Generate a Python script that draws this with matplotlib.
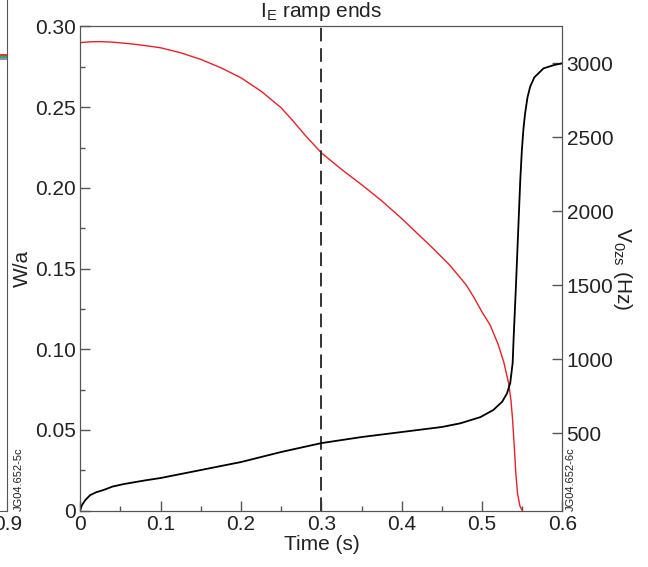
import numpy as np
import matplotlib
matplotlib.use("Agg")
import matplotlib.pyplot as plt
from matplotlib.ticker import MultipleLocator

plt.rcParams['font.family'] = ['Liberation Sans', 'DejaVu Sans']
plt.rcParams['mathtext.fontset'] = 'custom'
plt.rcParams['mathtext.rm'] = 'Liberation Sans'

# W/a (left axis, red)
t_w = [0.0, 0.0125, 0.025, 0.04, 0.062, 0.08, 0.1, 0.125, 0.15, 0.175, 0.2,
       0.225, 0.25, 0.265, 0.28, 0.3, 0.325, 0.35, 0.375, 0.4, 0.42, 0.44,
       0.46, 0.47, 0.48, 0.49, 0.5, 0.51, 0.52, 0.527, 0.533, 0.536, 0.538,
       0.540, 0.542, 0.544, 0.547, 0.550]
w_a = [0.2900, 0.2905, 0.2906, 0.2903, 0.2893, 0.2882, 0.2868, 0.2837, 0.2796,
       0.2744, 0.2682, 0.2599, 0.2496, 0.2413, 0.2325, 0.2217, 0.2115, 0.2020,
       0.1920, 0.1810, 0.1715, 0.1620, 0.1520, 0.1460, 0.1400, 0.1320, 0.1230,
       0.1150, 0.1030, 0.0920, 0.0790, 0.0680, 0.0560, 0.0400, 0.0230, 0.0110,
       0.0030, 0.0]

# V0zs (right axis, black)
t_v = [0.0, 0.002, 0.006, 0.01, 0.0125, 0.02, 0.029, 0.04, 0.054, 0.07,
       0.083, 0.1, 0.15, 0.2, 0.25, 0.3, 0.35, 0.4, 0.45, 0.473, 0.498, 0.514,
       0.525, 0.531, 0.535, 0.538, 0.5393, 0.542, 0.5475, 0.5495, 0.5515,
       0.5535, 0.5565, 0.5598, 0.565, 0.5765, 0.59, 0.6]
v_zs = [-20, 12, 45, 68, 81, 100, 115, 138, 155, 170, 182, 196, 250, 304, 372,
        432, 473, 507, 541, 566, 608, 656, 712, 768, 838, 973, 1151, 1480, 2211,
        2414, 2560, 2662, 2770, 2842, 2905, 2966, 2989, 3000]

# traces of the neighbouring panel at the left edge
t_side = [0.80, 0.90]
side_red = [0.837, 0.837]
side_green = [0.833, 0.833]
side_blue = [0.829, 0.829]

fig = plt.figure(figsize=(6.48, 5.67), dpi=100)
spine_col = '#555555'
txt_col = '#222222'
fs = 15

# sliver of the left-hand panel
ax0 = fig.add_axes([-0.5, 0.0993, 0.5113, 0.96])
ax0.plot(t_side, side_red, color='#e02020', lw=1.3)
ax0.plot(t_side, side_green, color='#20a050', lw=1.3)
ax0.plot(t_side, side_blue, color='#7090b0', lw=1.3)
ax0.set_xlim(0.0, 0.9)
ax0.set_ylim(0, 1)
ax0.set_yticks([])
ax0.set_xticks([0.9])
ax0.set_xticklabels(['0.9'])
ax0.tick_params(axis='x', direction='in', length=7, labelsize=fs,
                colors=spine_col, labelcolor=txt_col, pad=3)
for s in ['top', 'left']:
    ax0.spines[s].set_visible(False)
for s in ['right', 'bottom']:
    ax0.spines[s].set_color(spine_col)

ax = fig.add_axes([0.1239, 0.0993, 0.7441, 0.854])
ax.plot(t_w, w_a, color='#e8202a', lw=1.0)
ax.axvline(0.3, color='#333333', lw=1.4, ls=(0, (7, 3.5)))
ax.set_xlim(0, 0.6)
ax.set_ylim(0, 0.30)
ax.xaxis.set_minor_locator(MultipleLocator(0.05))
ax.yaxis.set_minor_locator(MultipleLocator(0.025))
ax.set_xticks([0, 0.1, 0.2, 0.3, 0.4, 0.5, 0.6])
ax.set_xticklabels(['0', '0.1', '0.2', '0.3', '0.4', '0.5', '0.6'])
ax.set_yticks([0, 0.05, 0.10, 0.15, 0.20, 0.25, 0.30])
ax.set_yticklabels(['0', '0.05', '0.10', '0.15', '0.20', '0.25', '0.30'])
ax.tick_params(which='major', direction='in', length=7, width=1,
               colors=spine_col, labelcolor=txt_col, labelsize=fs, pad=3)
ax.tick_params(which='minor', direction='in', length=3.6, width=1,
               colors=spine_col)
ax.set_xlabel('Time (s)', fontsize=fs, color=txt_col, labelpad=1)
ax.set_ylabel('W/a', fontsize=fs, color=txt_col)
ax.yaxis.set_label_coords(-0.100, 0.5)
for s in ax.spines.values():
    s.set_color(spine_col)

ax.text(0.3, 0.302, r'I$_\mathregular{E}$ ramp ends', ha='center',
        va='bottom', fontsize=fs, color=txt_col)

ax2 = ax.twinx()
ax2.plot(t_v, v_zs, color='black', lw=1.3)
ax2.set_ylim(-25, 3249)
ax2.set_yticks([500, 1000, 1500, 2000, 2500, 3000])
ax2.tick_params(direction='in', length=7, width=1, colors=spine_col,
                labelcolor=txt_col, labelsize=fs, pad=3)
ax2.set_ylabel(r'V$_\mathregular{0zs}$ (Hz)', fontsize=fs, color=txt_col,
               rotation=270, labelpad=15)
for s in ax2.spines.values():
    s.set_color(spine_col)

fig.text(566 / 648, 1 - 511 / 567, 'JG04.652-6c', rotation=90, fontsize=8,
         ha='left', va='bottom', color=txt_col)
fig.text(14 / 648, 1 - 511 / 567, 'JG04.652-5c', rotation=90, fontsize=8,
         ha='left', va='bottom', color=txt_col)

fig.savefig('out.png', dpi=100)
